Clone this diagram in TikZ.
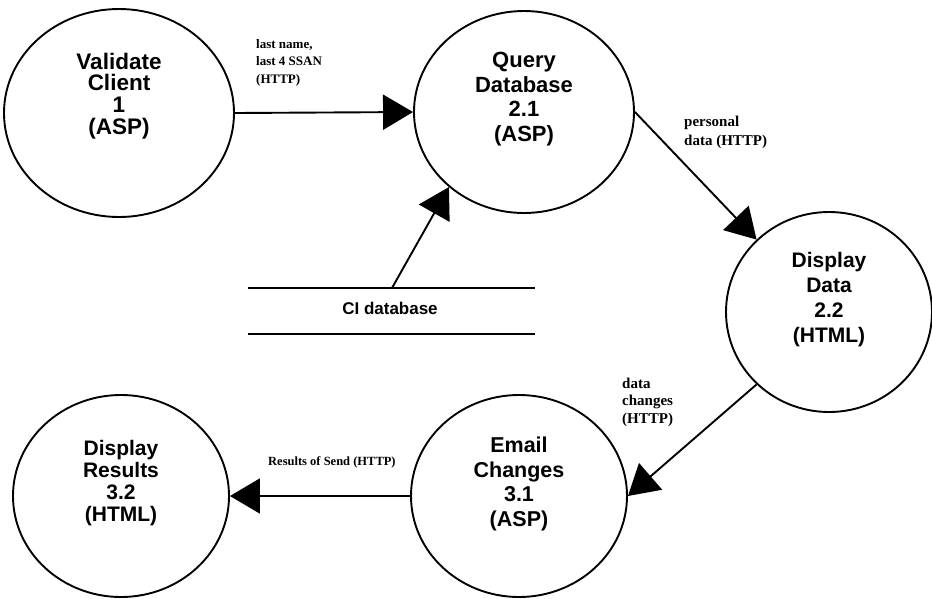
\documentclass[tikz,border=0pt]{standalone}
\usepackage{fontspec}
\setmainfont{Liberation Sans}
\newfontfamily\labelfont{Liberation Serif}
\usetikzlibrary{arrows.meta,shapes.geometric}
\begin{document}
\begin{tikzpicture}[x=1pt,y=-1pt,
  proc/.style={draw, line width=1.9pt, ellipse, inner sep=0pt},
  ptext/.style={align=center, inner sep=0pt},
  flow/.style={line width=1.9pt, -{Triangle[length=30pt,width=35pt]}},
  flowlabel/.style={align=left, inner sep=0pt, anchor=west},
  store/.style={line width=1.9pt}]

\useasboundingbox (0,0) rectangle (932,598);

% processes
\node[proc, minimum width=230pt, minimum height=208pt] (v)   at (119,113) {};
\node[proc, minimum width=220pt, minimum height=202pt] (q)   at (524,112) {};
\node[proc, minimum width=206pt, minimum height=200pt] (d22) at (829,312) {};
\node[proc, minimum width=216pt, minimum height=202pt] (e31) at (519,496) {};
\node[proc, minimum width=216pt, minimum height=202pt] (r32) at (121,496) {};

\node[ptext, font=\bfseries\fontsize{22.5}{21.8}\selectfont] (vt) at (119,96) {Validate\\Client\\1\\(ASP)};
\node[ptext, font=\bfseries\fontsize{22}{24.4}\selectfont] (qt) at (524,99) {Query\\Database\\2.1\\(ASP)};
\node[ptext, font=\bfseries\fontsize{21}{25}\selectfont] (dt) at (829,300) {Display\\Data\\2.2\\(HTML)};
\node[ptext, font=\bfseries\fontsize{21.5}{24.4}\selectfont] (et) at (519,484) {Email\\Changes\\3.1\\(ASP)};
\node[ptext, font=\bfseries\fontsize{21}{21.8}\selectfont] (rt) at (121,483) {Display\\Results\\3.2\\(HTML)};

% data store
\coordinate (dsTL) at (248,288);
\coordinate (dsTR) at (535,288);
\coordinate (dsBL) at (248,334);
\coordinate (dsBR) at (535,334);
\draw[store] (dsTL) -- (dsTR);
\draw[store] (dsBL) -- (dsBR);
\node[font=\bfseries\fontsize{17}{19}\selectfont] (dsname) at (390,308) {CI database};
\coordinate (ds) at (392,288);

% data flows
\draw[flow] (v.east) -- (q.west);
\draw[flow] (ds) -- (q.225);
\draw[flow] (q.east) -- (d22.135);
\draw[flow] (d22.225) -- (e31.east);
\draw[flow] (e31.west) -- (r32.east);

% flow labels
\node[flowlabel, font=\labelfont\bfseries\fontsize{13}{17.5}\selectfont] (l1) at (256,62.5) {last name,\\last 4 SSAN\\(HTTP)};
\node[flowlabel, font=\labelfont\bfseries\fontsize{15}{18.5}\selectfont] (l2) at (684,132.5) {personal\\data (HTTP)};
\node[flowlabel, font=\labelfont\bfseries\fontsize{15}{17.5}\selectfont] (l3) at (622,402) {data\\changes\\(HTTP)};
\node[flowlabel, font=\labelfont\bfseries\fontsize{12.5}{15}\selectfont] (l4) at (268,462) {Results of Send (HTTP)};
\end{tikzpicture}
\end{document}
